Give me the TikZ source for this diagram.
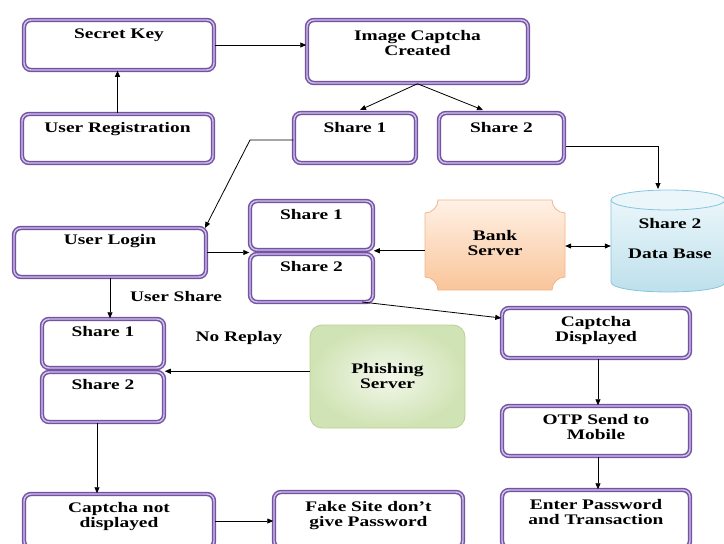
\documentclass[tikz,border=0pt]{standalone}
\usepackage{fontspec}
\setmainfont{Liberation Serif}[FakeStretch=1.33]
\usetikzlibrary{arrows.meta}
\definecolor{pout}{HTML}{7452A6}
\definecolor{pband}{HTML}{D2C4E8}
\definecolor{banktop}{HTML}{FFF1E6}
\definecolor{bankbot}{HTML}{F9C59A}
\definecolor{bankline}{HTML}{F2B488}
\definecolor{phin}{HTML}{F3F8EC}
\definecolor{phout}{HTML}{D0E3B4}
\definecolor{phline}{HTML}{B8D196}
\definecolor{dbtop}{HTML}{EAF6FA}
\definecolor{dbbot}{HTML}{BCDFEB}
\definecolor{dbline}{HTML}{86C6DC}
\tikzset{
  pbox/.style={draw=pout, line width=1.5pt, double=pband, double distance=1.4pt,
    rounded corners=7pt, fill=white, inner sep=0pt},
  txt/.style={align=center, inner sep=0pt},
  arr/.style={-{Triangle[length=6pt,width=5pt]}, line width=0.8pt, black},
  darr/.style={{Triangle[length=6pt,width=5pt]}-{Triangle[length=6pt,width=5pt]}, line width=0.8pt, black},
}
\newcommand{\pb}[7]{%
  \node[pbox, minimum width={(#4)-(#2)-4}, minimum height={(#5)-(#3)-4}] (#1) at ({((#2)+(#4))/2},{((#3)+(#5))/2}) {};
  \node[txt] (#1t) at ({((#2)+(#4))/2},#6) {#7};}
\begin{document}
\begin{tikzpicture}[x=1pt,y=-1pt,font=\fontsize{14.6}{15}\selectfont\bfseries]
\useasboundingbox (0,0) rectangle (724,544);
% boxes
\pb{sk}{22}{18}{216}{72}{35}{Secret Key}
\pb{ic}{305}{18}{530}{85}{43.5}{Image Captcha\\Created}
\pb{ur}{20}{112}{215}{165}{129}{User Registration}
\pb{sa}{292}{111}{418}{165}{128}{Share 1}
\pb{sb}{437}{111}{566}{165}{128}{Share 2}
\pb{ul}{12}{226}{208}{279}{241}{User Login}
\pb{ma}{248}{199}{375}{252}{215}{Share 1}
\pb{mb}{248}{252}{375}{304}{267}{Share 2}
\pb{la}{40}{317}{166}{370}{332}{Share 1}
\pb{lb}{40}{370}{166}{424}{385}{Share 2}
\pb{cd}{500}{306}{692}{360}{330.5}{Captcha\\Displayed}
\pb{otp}{500}{404}{692}{458}{427.5}{OTP Send to\\Mobile}
\pb{ep}{500}{488}{692}{550}{512}{Enter Password\\and Transaction}
\pb{cn}{22}{492}{216}{550}{517}{Captcha not\\displayed}
\pb{fs}{272}{490}{465}{550}{516}{Fake Site don’t\\give Password}
% bank server
\shade[top color=banktop, bottom color=bankbot, draw=bankline, line width=0.8pt]
  (438,200) -- (552,200) .. controls (552,207) and (558,213) .. (565,213)
  -- (565,277) .. controls (558,277) and (552,283) .. (552,290)
  -- (438,290) .. controls (438,283) and (432,277) .. (425,277)
  -- (425,213) .. controls (432,213) and (438,207) .. (438,200) -- cycle;
\node[minimum width=140pt, minimum height=90pt, inner sep=0pt] (bank) at (495,245) {};
\node[txt] (bankt) at (495,243.5) {Bank\\Server};
% database
\shade[top color=dbtop, bottom color=dbbot]
  (611,200) -- (611,282) .. controls (611,295.3) and (725,295.3) .. (725,282) -- (725,200) -- cycle;
\draw[dbline, line width=0.8pt] (611,200) -- (611,282) .. controls (611,295.3) and (725,295.3) .. (725,282) -- (725,200);
\filldraw[fill=dbtop, draw=dbline, line width=0.8pt] (668,200) ellipse [x radius=57, y radius=10];
\node[minimum width=114pt, minimum height=102pt, inner sep=0pt] (db) at (668,241) {};
\node[txt] (dbt1) at (670,224) {Share 2};
\node[txt] (dbt2) at (670,254) {Data Base};
% phishing server
\node[draw=phline, line width=0.8pt, rounded corners=12pt, inner color=phin, outer color=phout,
  minimum width=155pt, minimum height=103pt, txt] (ph) at (387.5,376.5) {Phishing\\Server};
% labels
\node[txt] (lus) at (176,297) {User Share};
\node[txt] (lnr) at (239,338) {No Replay};
% connectors
\draw[arr] (sk.east) -- (ic.west |- sk.east);
\draw[arr] (ur.north) -- (sk.south -| ur.north);
\draw[arr] (ic.south) -- (360,110);
\draw[arr] (ic.south) -- (483,110);
\coordinate (dbtopc) at (658,189);
\draw[arr] (566,146) -- (dbtopc |- 0,146) -- (dbtopc);
\coordinate (bend1) at (250,140);
\draw[arr] (sa.west |- bend1) -- (bend1) -- (205,228);
\draw[arr] (ul.east) -- (ma.south west |- ul.east);
\draw[arr] (bank.west |- ma.south east) -- (ma.south east);
\draw[darr] (bank.east |- 0,246) -- (db.west |- 0,246);
\draw[arr] (ul.south) -- (ul.south |- la.north);
\draw[arr] (ph.west |- lb.north east) -- (lb.north east);
\draw[arr] (362,302) -- (cd.west |- 0,318);
\draw[arr] (cd.south -| 598,0) -- (otp.north -| 598,0);
\draw[arr] (otp.south -| 598,0) -- (ep.north -| 598,0);
\draw[arr] (lb.south -| 97,0) -- (cn.north -| 97,0);
\draw[arr] (cn.east) -- (fs.west |- cn.east);
\end{tikzpicture}
\end{document}
